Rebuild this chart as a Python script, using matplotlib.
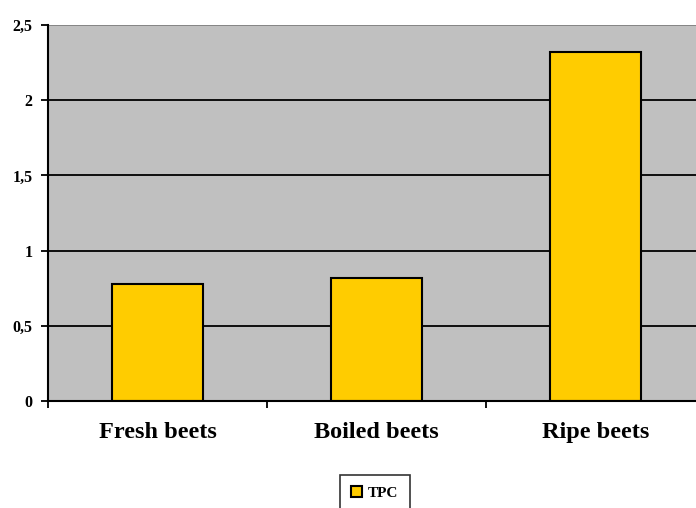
import matplotlib as mpl
import matplotlib.pyplot as plt
import numpy as np

mpl.rcParams["font.family"] = "Liberation Serif"
mpl.rcParams["font.weight"] = "bold"

categories = ["Fresh beets", "Boiled beets", "Ripe beets"]
tpc = [0.78, 0.82, 2.32]
yticks = [0, 0.5, 1, 1.5, 2, 2.5]
ytick_labels = ["0", "0,5", "1", "1,5", "2", "2,5"]

fig = plt.figure(figsize=(6.96, 5.08), dpi=100)
# plot area runs a little past the right edge of the figure, as in the original
ax = fig.add_axes([48 / 696, 1 - 401 / 508, (705 - 48) / 696, (401 - 25) / 508])
ax.set_facecolor("#C0C0C0")

x = np.arange(len(categories))
ax.bar(x, tpc, width=0.415, color="#FFCC00", edgecolor="black", linewidth=1.5,
       label="TPC", zorder=3)

ax.set_xlim(-0.5, len(categories) - 0.5)
ax.set_ylim(0, 2.5)
ax.set_yticks(yticks)
ax.set_yticklabels(ytick_labels, fontsize=11.5, fontweight="bold")
ax.yaxis.grid(True, color="black", linewidth=1.3, zorder=1)
ax.get_ygridlines()[-1].set_color("#808080")
ax.set_axisbelow(True)

# category labels between boundary ticks
ax.set_xticks(np.arange(-0.5, len(categories), 1.0))
ax.set_xticklabels([])
ax.set_xticks(x, minor=True)
ax.set_xticklabels(categories, minor=True, fontsize=17.5, fontweight="bold")
ax.tick_params(axis="x", which="minor", length=0, pad=15)
ax.tick_params(axis="x", which="major", direction="out", length=5, width=1.3)
ax.tick_params(axis="y", direction="out", length=5, width=1.3, pad=6)

for s in ["top", "right"]:
    ax.spines[s].set_visible(False)
for s in ["left", "bottom"]:
    ax.spines[s].set_linewidth(1.5)
    ax.spines[s].set_zorder(4)

leg = fig.legend(loc="upper center", bbox_to_anchor=(375 / 696, 1 - 475 / 508),
                 ncol=1, fontsize=11, frameon=True, fancybox=False,
                 edgecolor="black", handlelength=0.7, handleheight=0.7,
                 handletextpad=0.4, borderpad=0.75, borderaxespad=0)
leg.get_frame().set_linewidth(1.2)
for t in leg.get_texts():
    t.set_fontweight("bold")

fig.savefig("out.png", dpi=100)
